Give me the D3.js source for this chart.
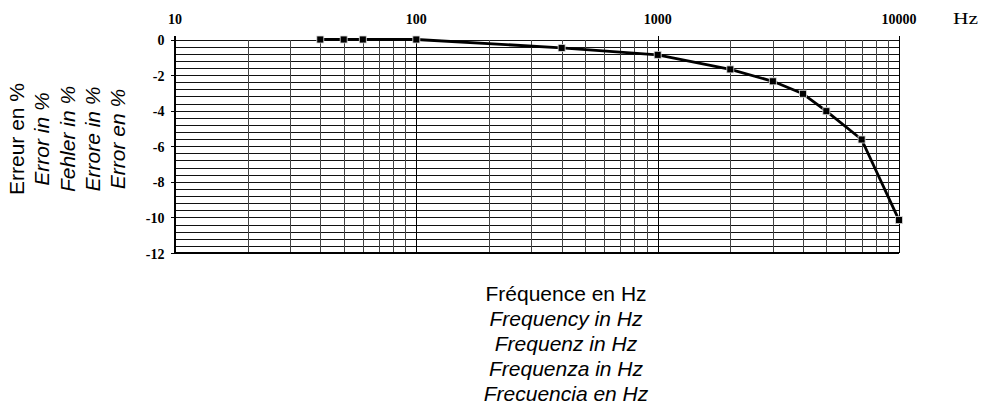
<!DOCTYPE html>
<html>
<head>
<meta charset="utf-8">
<script src="https://cdn.jsdelivr.net/npm/d3@7"></script>
<style>
  html, body { margin: 0; padding: 0; background: #fff; }
  svg { display: block; }
</style>
</head>
<body>
<svg id="chart" width="981" height="406"></svg>
<script>
// Measured frequency response: error (%) against frequency (Hz)
const frequencies = [40, 50, 60, 100, 400, 1000, 2000, 3000, 4000, 5000, 7000, 10000];
const errorPct    = [0, 0, 0, 0, -0.47, -0.86, -1.68, -2.35, -3.05, -4.03, -5.62, -10.15];

// Axis labelling
const xTickLabels = [10, 100, 1000, 10000];
const yTickLabels = [0, -2, -4, -6, -8, -10, -12];
const yTitleLines = ["Erreur en %", "Error in %", "Fehler in %", "Errore in %", "Error en %"];
const xTitleLines = ["Fréquence en Hz", "Frequency in Hz", "Frequenz in Hz", "Frequenza in Hz", "Frecuencia en Hz"];
const xUnit = "Hz";

const svg = d3.select("#chart");

const x = d3.scaleLog().domain([10, 10000]).range([175, 899]);
const y = d3.scaleLinear().domain([-12, 0]).range([253, 39.5]);

const x0 = x.range()[0], x1 = x.range()[1];
const yTop = y(0), yBot = y(-12);

// Fine grid: every 0.4 % horizontally, every log sub-division vertically
const hGrid = d3.range(0, 12.0001, 0.4).map(v => -v);
const vGrid = x.ticks().filter(v => v > 10 && v < 10000);

const grid = svg.append("g").attr("shape-rendering", "crispEdges");
grid.selectAll("line.h").data(hGrid).join("line")
  .attr("class", "h")
  .attr("x1", x0).attr("x2", x1)
  .attr("y1", d => Math.round(y(d)) + 0.5).attr("y2", d => Math.round(y(d)) + 0.5)
  .attr("stroke", "#111").attr("stroke-width", 1);
grid.selectAll("line.v").data(vGrid).join("line")
  .attr("class", "v")
  .attr("x1", d => Math.round(x(d)) + 0.5).attr("x2", d => Math.round(x(d)) + 0.5)
  .attr("y1", yTop).attr("y2", yBot)
  .attr("stroke", d => xTickLabels.includes(d) ? "#000" : "#444").attr("stroke-width", 1);

// Frame: left axis, right edge and bottom line
const frame = svg.append("g").attr("shape-rendering", "crispEdges").attr("stroke", "#000");
frame.append("line").attr("x1", x0).attr("x2", x0).attr("y1", yTop - 4).attr("y2", yBot).attr("stroke-width", 1.5);
frame.append("line").attr("x1", x1).attr("x2", x1).attr("y1", yTop - 4).attr("y2", yBot).attr("stroke-width", 1);
frame.append("line").attr("x1", x0).attr("x2", x1).attr("y1", yBot).attr("y2", yBot).attr("stroke-width", 1.5);

// Decade ticks above the grid
frame.selectAll("line.xt").data(xTickLabels).join("line")
  .attr("class", "xt")
  .attr("x1", d => Math.round(x(d)) + 0.5).attr("x2", d => Math.round(x(d)) + 0.5)
  .attr("y1", yTop - 4).attr("y2", yTop)
  .attr("stroke-width", 1);

// Value ticks left of the axis
frame.selectAll("line.yt").data(yTickLabels).join("line")
  .attr("class", "yt")
  .attr("x1", x0 - 4).attr("x2", x0)
  .attr("y1", d => Math.round(y(d)) + 0.5).attr("y2", d => Math.round(y(d)) + 0.5)
  .attr("stroke-width", 1);

// Tick labels
const serif = "'Liberation Serif', 'Times New Roman', serif";
svg.append("g").selectAll("text").data(xTickLabels).join("text")
  .attr("x", d => x(d)).attr("y", 23.5)
  .attr("text-anchor", "middle")
  .attr("font-family", serif)
  .attr("font-weight", "bold").attr("font-size", 14)
  .text(d => d);

svg.append("text")
  .attr("x", 953).attr("y", 23.5)
  .attr("font-family", serif)
  .attr("font-size", 16)
  .attr("textLength", 25).attr("lengthAdjust", "spacingAndGlyphs")
  .text(xUnit);

svg.append("g").selectAll("text").data(yTickLabels).join("text")
  .attr("x", 164.5).attr("y", d => y(d) + 5.5)
  .attr("text-anchor", "end")
  .attr("font-family", serif)
  .attr("font-weight", "bold").attr("font-size", 14)
  .text(d => d);

// Response curve
const pts = frequencies.map((f, i) => [f, errorPct[i]]);
const line = d3.line()
  .x(d => x(d[0])).y(d => y(d[1]));

svg.append("path")
  .datum(pts)
  .attr("d", line)
  .attr("fill", "none")
  .attr("stroke", "#000")
  .attr("stroke-width", 2.8)
  .attr("stroke-linejoin", "round");

const s = 7;
svg.append("g").selectAll("rect").data(pts).join("rect")
  .attr("x", d => x(d[0]) - s / 2).attr("y", d => y(d[1]) - s / 2)
  .attr("width", s).attr("height", s)
  .attr("fill", "#000")
  .attr("stroke", "#ddd").attr("stroke-width", 0.8);

// Multilingual axis titles
const sans = "'Liberation Sans', Arial, Helvetica, sans-serif";
svg.append("g").selectAll("text").data(yTitleLines).join("text")
  .attr("transform", (d, i) => `translate(${24 + i * 25.3},139) rotate(-90)`)
  .attr("text-anchor", "middle")
  .attr("font-family", sans).attr("font-size", 21)
  .attr("font-style", (d, i) => i === 0 ? "normal" : "italic")
  .text(d => d);

svg.append("g").selectAll("text").data(xTitleLines).join("text")
  .attr("x", 566).attr("y", (d, i) => 300.7 + i * 25)
  .attr("text-anchor", "middle")
  .attr("font-family", sans).attr("font-size", 21)
  .attr("font-style", (d, i) => i === 0 ? "normal" : "italic")
  .text(d => d);
</script>
</body>
</html>
